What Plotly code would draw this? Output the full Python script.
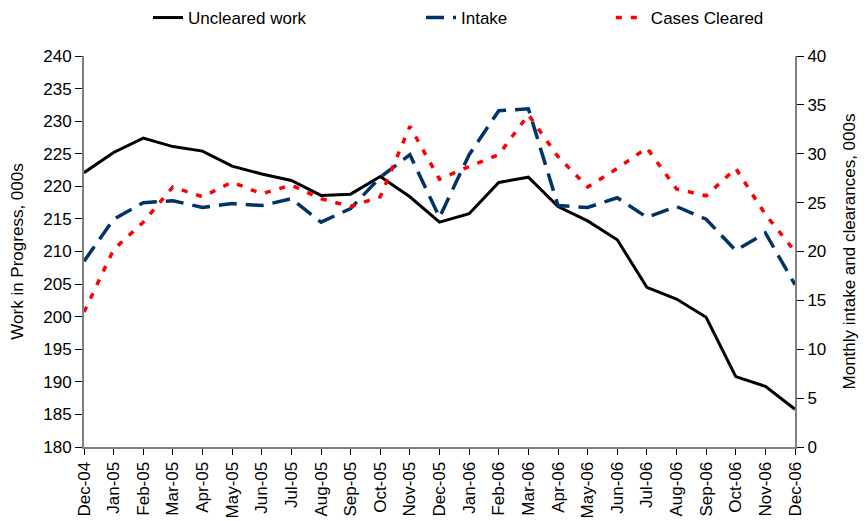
import plotly.graph_objects as go

months = ["Dec-04", "Jan-05", "Feb-05", "Mar-05", "Apr-05", "May-05", "Jun-05",
          "Jul-05", "Aug-05", "Sep-05", "Oct-05", "Nov-05", "Dec-05", "Jan-06",
          "Feb-06", "Mar-06", "Apr-06", "May-06", "Jun-06", "Jul-06", "Aug-06",
          "Sep-06", "Oct-06", "Nov-06", "Dec-06"]

# work in progress, 000s (left axis)
uncleared = [222.1, 225.2, 227.4, 226.1, 225.4, 223.1, 221.9, 220.9, 218.6, 218.8,
             221.5, 218.4, 214.5, 215.8, 220.6, 221.4, 216.9, 214.7, 211.8, 204.5,
             202.7, 199.9, 190.8, 189.3, 185.8]

# monthly intake and clearances, 000s (right axis)
intake = [19.0, 23.3, 25.0, 25.2, 24.5, 24.9, 24.7, 25.4, 23.0, 24.4,
          27.6, 29.9, 23.5, 29.9, 34.4, 34.6, 24.7, 24.5, 25.5, 23.5,
          24.6, 23.3, 20.1, 21.9, 16.6]
cleared = [13.8, 20.2, 23.0, 26.6, 25.6, 27.1, 25.9, 26.8, 25.4, 24.6,
           25.6, 32.8, 27.4, 28.7, 29.9, 34.0, 29.7, 26.6, 28.5, 30.6,
           26.4, 25.7, 28.5, 23.8, 20.0]

FONT = "Liberation Sans, Arial, sans-serif"

fig = go.Figure()
fig.add_trace(go.Scatter(
    x=months, y=uncleared, mode="lines", name="Uncleared work", legend="legend",
    line=dict(color="#000000", width=3),
))
fig.add_trace(go.Scatter(
    x=months, y=intake, mode="lines", name="Intake", yaxis="y2", legend="legend2",
    line=dict(color="#003366", width=3.5, dash="18px,9px"),
))
fig.add_trace(go.Scatter(
    x=months, y=cleared, mode="lines", name="Cases Cleared", yaxis="y2", legend="legend3",
    line=dict(color="#ff0000", width=3.5, dash="6px,9px"),
))

leg = dict(orientation="h", xanchor="left", yanchor="top", yref="container", y=1.0,
           font=dict(size=17), bgcolor="rgba(0,0,0,0)")

fig.update_layout(
    width=867, height=521,
    margin=dict(l=84, r=72, t=56, b=74, autoexpand=False),
    paper_bgcolor="white", plot_bgcolor="white",
    font=dict(family=FONT, size=17, color="#000000"),
    showlegend=True,
    legend=dict(leg, x=0.09),
    legend2=dict(leg, x=0.474),
    legend3=dict(leg, x=0.741),
    xaxis=dict(
        range=[0, 24], tickangle=-90, showgrid=False, automargin=False,
        showline=True, linecolor="#808080", linewidth=2,
        ticks="outside", ticklen=6, tickcolor="#000000",
        tickfont=dict(size=17),
    ),
    yaxis=dict(
        range=[180, 240], dtick=5, showgrid=False, zeroline=False, automargin=False,
        showline=True, linecolor="#808080", linewidth=2,
        ticks="outside", ticklen=7, tickcolor="#000000",
        tickfont=dict(size=17),
        title=dict(text="Work in Progress, 000s", font=dict(size=17), standoff=15),
    ),
    yaxis2=dict(
        range=[0, 40], dtick=5, overlaying="y", side="right",
        showgrid=False, zeroline=False, automargin=False,
        showline=True, linecolor="#808080", linewidth=2,
        ticks="outside", ticklen=7, tickcolor="#000000",
        tickfont=dict(size=17),
        title=dict(text="Monthly intake and clearances, 000s", font=dict(size=17), standoff=18),
    ),
)

# the page's default body margin would shift the chart
fig.write_html("out.html", config={"displayModeBar": False},
               post_script="document.body.style.margin='0';")
